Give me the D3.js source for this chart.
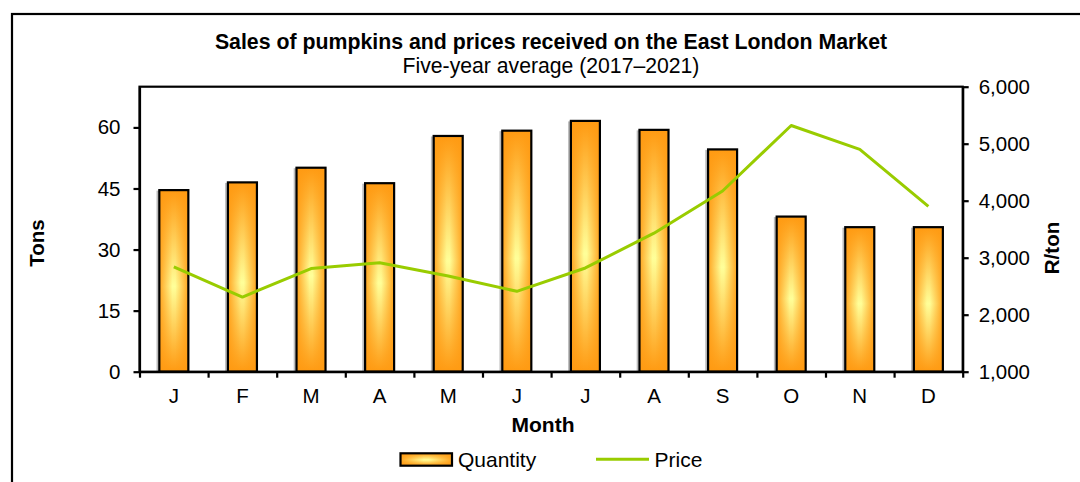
<!DOCTYPE html>
<html>
<head>
<meta charset="utf-8">
<script src="https://cdn.jsdelivr.net/npm/d3@7"></script>
<style>
  body { margin: 0; background: #fff; }
  svg { display: block; font-family: "Liberation Sans", Arial, sans-serif; }
</style>
</head>
<body>
<div id="chart"></div>
<script>
// data
const months = ["J", "F", "M", "A", "M", "J", "J", "A", "S", "O", "N", "D"];
const quantity = [44.6, 46.5, 50.1, 46.3, 57.9, 59.2, 61.6, 59.4, 54.6, 38.1, 35.5, 35.5];
const price = [2840, 2310, 2810, 2910, 2680, 2410, 2820, 3430, 4170, 5320, 4900, 3900];
const tonTicks = [0, 15, 30, 45, 60];
const priceTicks = [1000, 2000, 3000, 4000, 5000, 6000];

const W = 1080, H = 482;
const plotL = 139.5, plotR = 962.7, plotT = 86.7, plotB = 371.7;

const svg = d3.select("#chart").append("svg")
  .attr("width", W)
  .attr("height", H);

const defs = svg.append("defs");

// vertical gradient: orange ends, pale yellow middle
const gV = defs.append("linearGradient")
  .attr("id", "barV").attr("x1", 0).attr("y1", 0).attr("x2", 0).attr("y2", 1);
gV.append("stop").attr("offset", "0%").attr("stop-color", "#ff9a12");
gV.append("stop").attr("offset", "53%").attr("stop-color", "#ffff99");
gV.append("stop").attr("offset", "100%").attr("stop-color", "#ff9a12");

// horizontal overlay: orange at the sides
const gH = defs.append("linearGradient")
  .attr("id", "barH").attr("x1", 0).attr("y1", 0).attr("x2", 1).attr("y2", 0);
gH.append("stop").attr("offset", "0%").attr("stop-color", "#ff9a12").attr("stop-opacity", 0.9);
gH.append("stop").attr("offset", "45%").attr("stop-color", "#ff9a12").attr("stop-opacity", 0);
gH.append("stop").attr("offset", "55%").attr("stop-color", "#ff9a12").attr("stop-opacity", 0);
gH.append("stop").attr("offset", "100%").attr("stop-color", "#ff9a12").attr("stop-opacity", 0.9);

// outer frame (runs off the picture on the right and bottom)
svg.append("rect")
  .attr("x", 12).attr("y", 14)
  .attr("width", 1100).attr("height", 500)
  .attr("fill", "none")
  .attr("stroke", "#000")
  .attr("stroke-width", 2.2);

const x = d3.scaleBand()
  .domain(d3.range(months.length))
  .range([plotL, plotR])
  .paddingInner(0.577)
  .paddingOuter(0.289);

const xEdge = d3.scaleLinear().domain([0, months.length]).range([plotL, plotR]);
const yL = d3.scaleLinear().domain([0, 70]).range([plotB, plotT]);
const yR = d3.scaleLinear().domain([1000, 6000]).range([plotB, plotT]);

// bars
const bars = svg.append("g");
const bw = x.bandwidth();

bars.selectAll("rect.shadow")
  .data(quantity)
  .enter().append("rect")
  .attr("class", "shadow")
  .attr("x", (d, i) => x(i) - 1.8)
  .attr("y", d => yL(d) + 1.5)
  .attr("width", bw)
  .attr("height", d => plotB - yL(d) - 1.5)
  .attr("fill", "none")
  .attr("stroke", "#bbb")
  .attr("stroke-width", 2);

bars.selectAll("rect.base")
  .data(quantity)
  .enter().append("rect")
  .attr("class", "base")
  .attr("x", (d, i) => x(i))
  .attr("y", d => yL(d))
  .attr("width", bw)
  .attr("height", d => plotB - yL(d))
  .attr("fill", "url(#barV)");

bars.selectAll("rect.over")
  .data(quantity)
  .enter().append("rect")
  .attr("class", "over")
  .attr("x", (d, i) => x(i))
  .attr("y", d => yL(d))
  .attr("width", bw)
  .attr("height", d => plotB - yL(d))
  .attr("fill", "url(#barH)")
  .attr("stroke", "#000")
  .attr("stroke-width", 2.2);

// price line
const line = d3.line()
  .x((d, i) => x(i) + bw / 2)
  .y(d => yR(d));

svg.append("path")
  .datum(price)
  .attr("fill", "none")
  .attr("stroke", "#99cc00")
  .attr("stroke-width", 3)
  .attr("stroke-linejoin", "round")
  .attr("d", line);

// plot frame
svg.append("rect")
  .attr("x", plotL).attr("y", plotT)
  .attr("width", plotR - plotL).attr("height", plotB - plotT)
  .attr("fill", "none")
  .attr("stroke", "#000")
  .attr("stroke-width", 2.2);

// axes
const fs = "20.5px";

const gLeft = svg.append("g")
  .attr("transform", `translate(${plotL},0)`)
  .call(d3.axisLeft(yL).tickValues(tonTicks).tickSize(6).tickSizeOuter(0).tickPadding(13));

const gRight = svg.append("g")
  .attr("transform", `translate(${plotR},0)`)
  .call(d3.axisRight(yR).tickValues(priceTicks).tickSize(6).tickSizeOuter(0).tickPadding(10)
    .tickFormat(d3.format(",")));

const gTicks = svg.append("g")
  .attr("transform", `translate(0,${plotB})`)
  .call(d3.axisBottom(xEdge).ticks(months.length).tickSize(6).tickSizeOuter(0).tickFormat(""));

const gBottom = svg.append("g")
  .attr("transform", `translate(0,${plotB})`)
  .call(d3.axisBottom(x).tickSize(0).tickPadding(17).tickFormat(i => months[i]));

[gLeft, gRight, gTicks, gBottom].forEach(g => {
  g.select(".domain").attr("stroke", "#000").attr("stroke-width", 2.2);
  g.selectAll(".tick line").attr("stroke", "#000").attr("stroke-width", 2.2);
  g.selectAll(".tick text")
    .attr("fill", "#000")
    .style("font-family", "'Liberation Sans', Arial, sans-serif")
    .style("font-size", fs);
});
gBottom.select(".domain").remove();

// titles
svg.append("text")
  .attr("x", 551).attr("y", 49)
  .attr("text-anchor", "middle")
  .style("font-size", "21.3px")
  .style("font-weight", "bold")
  .text("Sales of pumpkins and prices received on the East London Market");

svg.append("text")
  .attr("x", 551).attr("y", 73)
  .attr("text-anchor", "middle")
  .style("font-size", "21.2px")
  .text("Five-year average (2017–2021)");

svg.append("text")
  .attr("x", 543).attr("y", 432)
  .attr("text-anchor", "middle")
  .style("font-size", "21px")
  .style("font-weight", "bold")
  .text("Month");

svg.append("text")
  .attr("transform", "translate(44,243) rotate(-90)")
  .attr("text-anchor", "middle")
  .style("font-size", "20.5px")
  .style("font-weight", "bold")
  .text("Tons");

svg.append("text")
  .attr("transform", "translate(1059,248) rotate(-90)")
  .attr("text-anchor", "middle")
  .style("font-size", "20.5px")
  .style("font-weight", "bold")
  .text("R/ton");

// legend
const legend = svg.append("g");
legend.append("rect")
  .attr("x", 400.5).attr("y", 453.3)
  .attr("width", 51.5).attr("height", 12.4)
  .attr("fill", "url(#barV)");
legend.append("rect")
  .attr("x", 400.5).attr("y", 453.3)
  .attr("width", 51.5).attr("height", 12.4)
  .attr("fill", "url(#barH)")
  .attr("stroke", "#000")
  .attr("stroke-width", 2.2);
legend.append("text")
  .attr("x", 458).attr("y", 467)
  .style("font-size", "21px")
  .text("Quantity");

legend.append("line")
  .attr("x1", 596).attr("x2", 649)
  .attr("y1", 459.3).attr("y2", 459.3)
  .attr("stroke", "#99cc00")
  .attr("stroke-width", 3);
legend.append("text")
  .attr("x", 654.5).attr("y", 467)
  .style("font-size", "21px")
  .text("Price");
</script>
</body>
</html>
